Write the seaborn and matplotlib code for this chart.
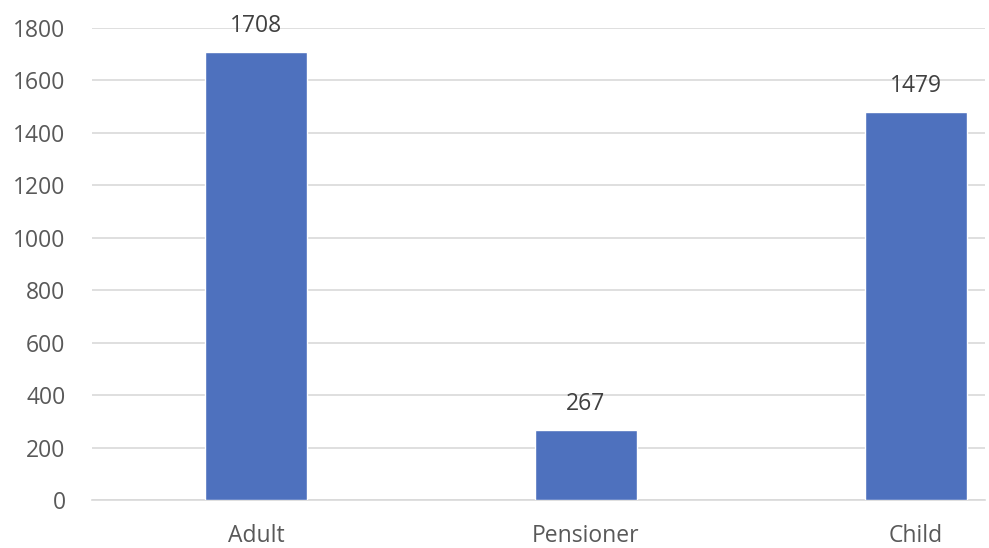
import matplotlib
matplotlib.use('Agg')
import matplotlib.pyplot as plt
import seaborn as sns
import pandas as pd

categories = ['Adult', 'Pensioner', 'Child']
counts = [1708, 267, 1479]

df = pd.DataFrame({'Category': categories, 'Count': counts})

sns.set_style('white')
plt.rcParams['font.family'] = ['Open Sans', 'DejaVu Sans']

fig = plt.figure(figsize=(9.89, 5.48), dpi=100)
ax = fig.add_axes([92 / 989, 1 - 500 / 548, (985 - 92) / 989, (500 - 28) / 548])

sns.barplot(data=df, x='Category', y='Count', color='#4E71BE', saturation=1,
            width=0.31, ax=ax, zorder=3)

ax.set_ylim(0, 1800)
ax.set_xlim(-0.497, 2.21)
ax.set_yticks(range(0, 1801, 200))
ax.yaxis.grid(True, color='#d9d9d9', linewidth=1.2, zorder=0)
ax.set_axisbelow(True)
for s in ['top', 'right', 'left']:
    ax.spines[s].set_visible(False)
ax.spines['bottom'].set_color('#d9d9d9')
ax.spines['bottom'].set_linewidth(1.2)

ax.tick_params(axis='both', length=0, labelsize=16.5, colors='#595959')
ax.tick_params(axis='y', pad=19)
ax.tick_params(axis='x', pad=17)
ax.set_xlabel('')
ax.set_ylabel('')

# value labels above bars
for bar, v in zip(ax.patches, counts):
    ax.annotate(f'{v}', (bar.get_x() + bar.get_width() / 2, bar.get_height()),
                xytext=(0, 10), textcoords='offset points', ha='center', va='bottom',
                fontsize=16.5, color='#404040', annotation_clip=False)

fig.savefig('out.png', dpi=100)
